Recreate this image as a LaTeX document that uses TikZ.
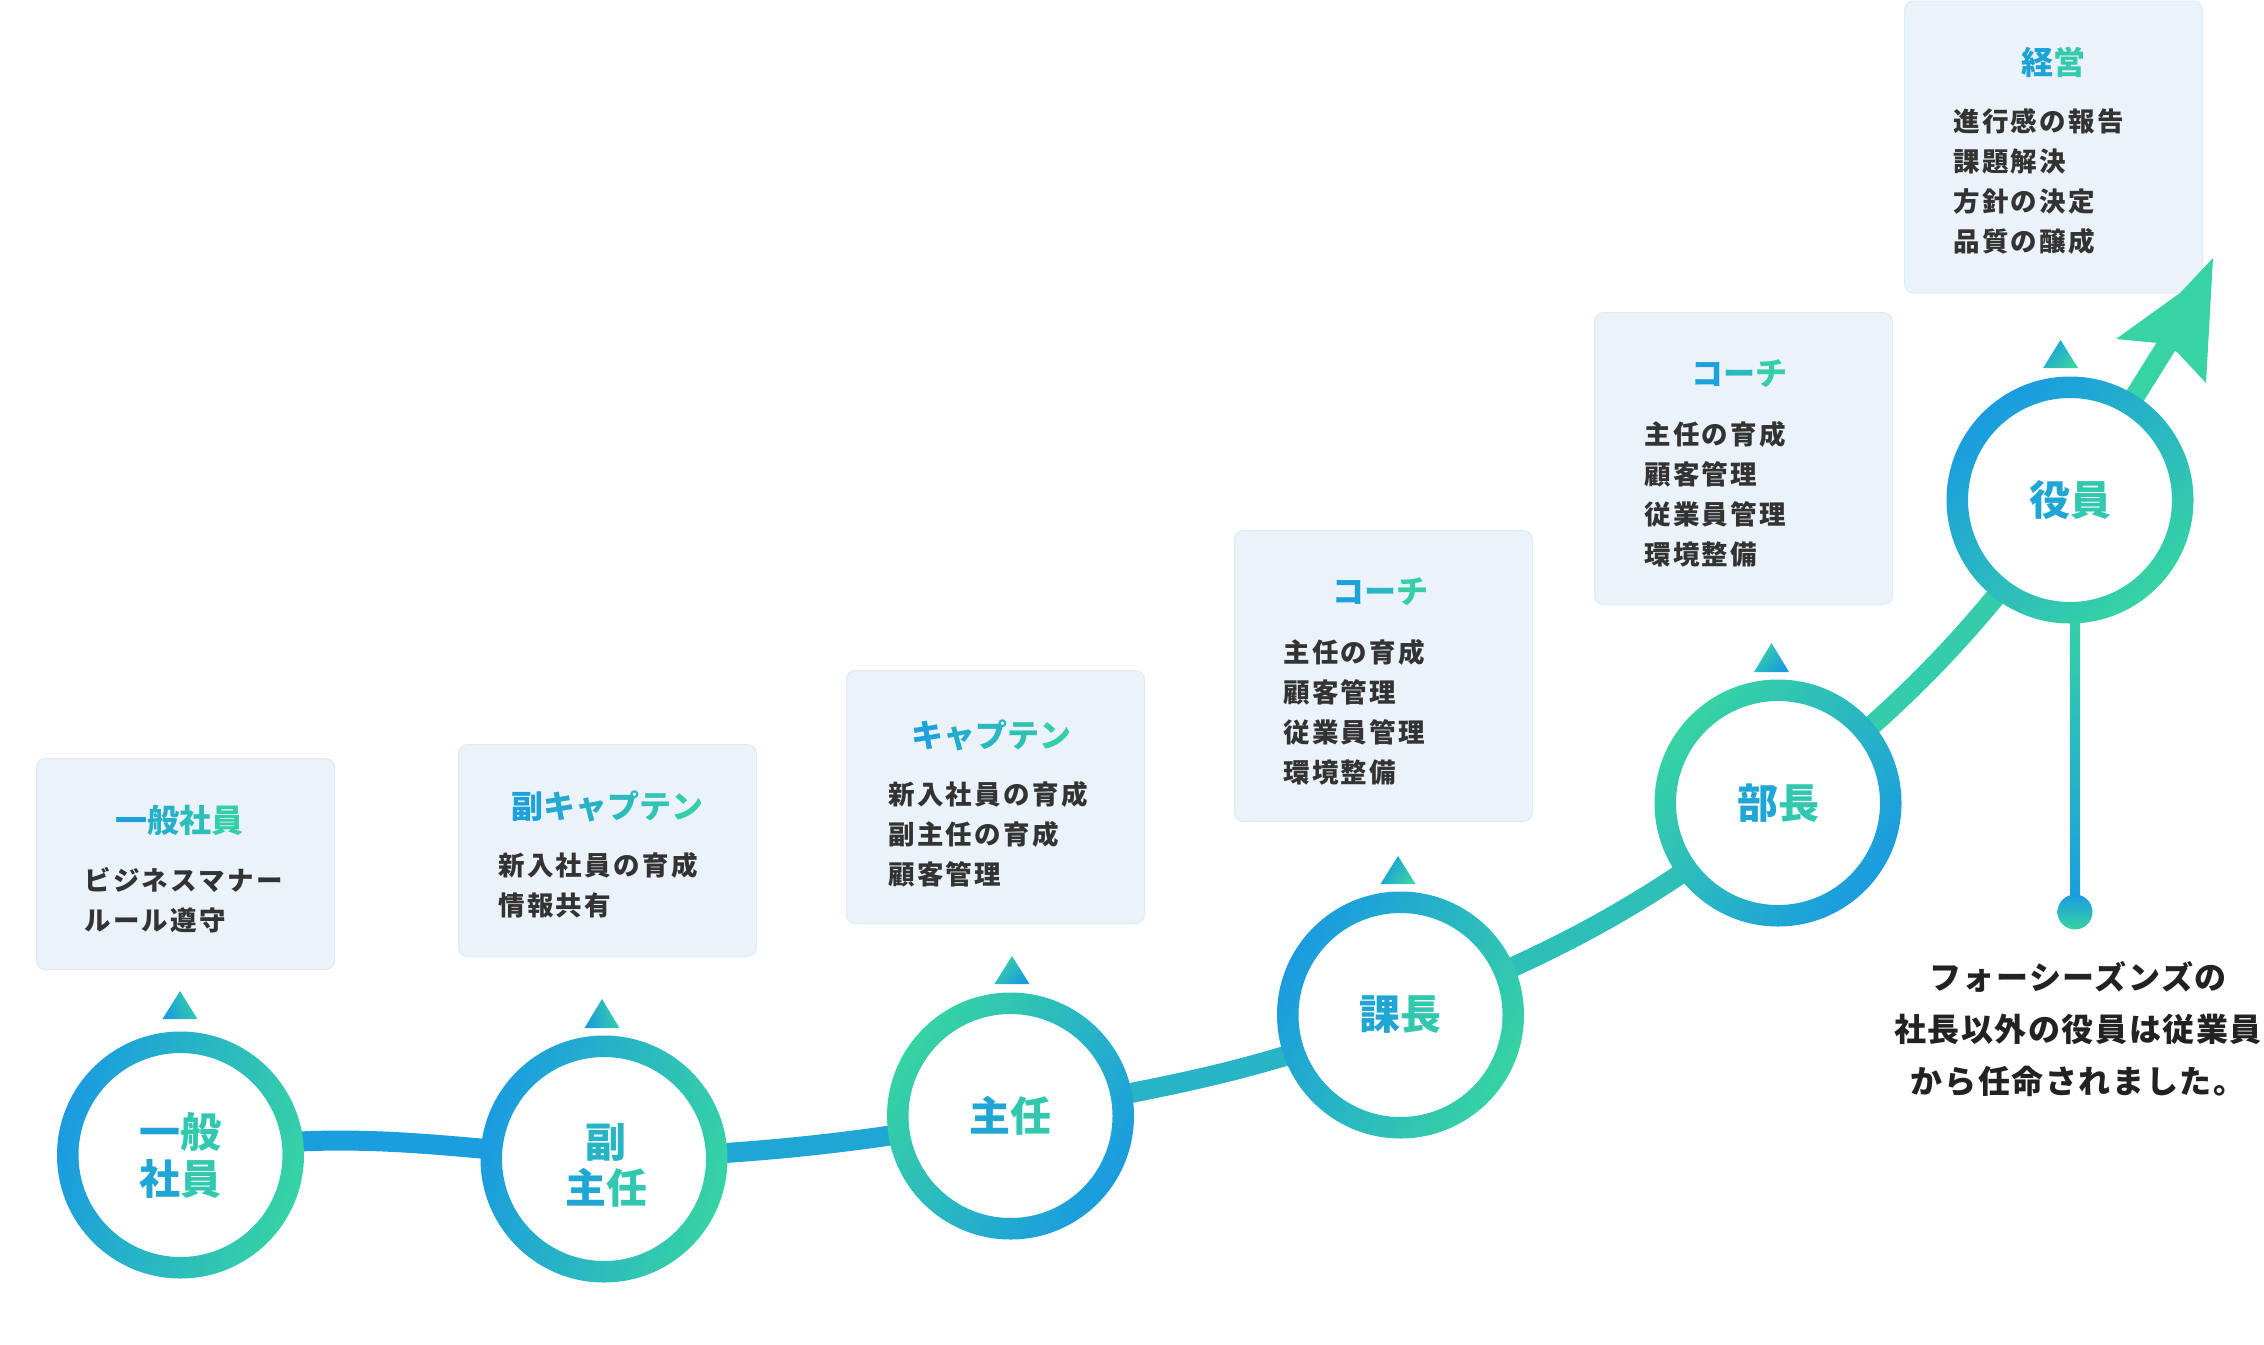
\documentclass[tikz,border=0pt]{standalone}
\usepackage{fontspec}
\setmainfont{Noto Sans CJK JP}
\newfontfamily\jpcirc{Noto Sans CJK JP}[LetterSpace=5]
\newfontfamily\jptitle{Noto Sans CJK JP}[LetterSpace=3]
\newfontfamily\jpbody{Noto Sans CJK JP}[LetterSpace=9]
\newfontfamily\jpcap{Noto Sans CJK JP}[LetterSpace=5]
\usetikzlibrary{calc}
\definecolor{cb}{HTML}{1A9BE0}
\definecolor{cg}{HTML}{37D3A3}
\definecolor{boxfill}{HTML}{EBF2F9}
\definecolor{boxline}{HTML}{DDEBF3}
\definecolor{bodygray}{HTML}{333333}
\definecolor{capgray}{HTML}{222222}
\colorlet{segA}{cg!5!cb}
\colorlet{segB}{cg!20!cb}
\colorlet{segC}{cg!45!cb}
\colorlet{segD}{cg!66!cb}
\colorlet{segE}{cg!88!cb}
\colorlet{segF}{cg}
\pgfdeclarelayer{bg}
\pgfsetlayers{bg,main}
\newcommand\gch[2]{\textcolor{cg!#1!cb}{#2}}
\newcommand\ringshade[2]{\shade[top color=cb, bottom color=cg, shading angle=#2, even odd rule] (#1.center) circle (123.5) (#1.center) circle (102);}
\newcommand\marker[4]{\shade[top color=cb, bottom color=cg, shading angle=#4] (#1-17.5,-#2) -- (#1,-#3) -- (#1+17.5,-#2) -- cycle;}
\tikzset{
  infobox/.style={draw=boxline, line width=1pt, fill=boxfill, rounded corners=9pt, anchor=north west, inner sep=0pt, minimum width=298pt},
  ringnode/.style={circle, fill=white, minimum size=206pt, inner sep=0pt, align=center, font=\jpcirc\bfseries\fontsize{41}{47}\selectfont},
  ringlabel/.style={inner sep=0pt, align=center, font=\jpcirc\bfseries\fontsize{41}{46}\selectfont},
  titletext/.style={font=\jptitle\bfseries\fontsize{32}{40}\selectfont, inner sep=0pt},
  bodylines/.style={font=\jpbody\bfseries\fontsize{26.5}{40}\selectfont, text=bodygray, align=left, anchor=west, inner sep=0pt},
  pathseg/.style={line width=20pt, line cap=butt},
}
\begin{document}
\begin{tikzpicture}[x=1pt,y=1pt]
\useasboundingbox (0,0) rectangle (2264,-1344);

% info boxes
\node[infobox, minimum height=211pt] (b1) at (36,-758) {};
\node[infobox, minimum height=212pt] (b2) at (458,-744) {};
\node[infobox, minimum height=253pt] (b3) at (846,-670) {};
\node[infobox, minimum height=291pt] (b4) at (1234,-530) {};
\node[infobox, minimum height=292pt] (b5) at (1594,-312) {};
\node[infobox, minimum height=292pt] (b6) at (1904,-0.5) {};

% box titles
\node[titletext] (h1) at (179,-820) {\gch{10}{一}\gch{37}{般}\gch{63}{社}\gch{90}{員}};
\node[titletext] (h2) at (607,-806) {\gch{10}{副}\gch{26}{キ}\gch{42}{ャ}\gch{58}{プ}\gch{74}{テ}\gch{90}{ン}};
\node[titletext] (h3) at (991,-735) {\gch{10}{キ}\gch{30}{ャ}\gch{50}{プ}\gch{70}{テ}\gch{90}{ン}};
\node[titletext] (h4) at (1380,-592) {\gch{10}{コ}\gch{50}{ー}\gch{90}{チ}};
\node[titletext] (h5) at (1739,-374) {\gch{10}{コ}\gch{50}{ー}\gch{90}{チ}};
\node[titletext] (h6) at (2053,-62) {\gch{15}{経}\gch{85}{営}};

% box bodies
\node[bodylines] (t1) at (84,-900) {ビジネスマナー\\ルール遵守};
\node[bodylines] (t2) at (498,-885.5) {新入社員の育成\\情報共有};
\node[bodylines] (t3) at (888,-834.5) {新入社員の育成\\副主任の育成\\顧客管理};
\node[bodylines] (t4) at (1283,-712) {主任の育成\\顧客管理\\従業員管理\\環境整備};
\node[bodylines] (t5) at (1644,-494) {主任の育成\\顧客管理\\従業員管理\\環境整備};
\node[bodylines] (t6) at (1953,-181.5) {進行感の報告\\課題解決\\方針の決定\\品質の醸成};

% circles
\node[ringnode] (c1) at (180.5,-1155) {\gch{15}{一}\gch{80}{般}\\\gch{20}{社}\gch{80}{員}};
\node[ringnode] (c2) at (604,-1159) {};
\node[ringlabel] (c2t) at (606,-1165) {\gch{45}{副}\\\gch{20}{主}\gch{80}{任}};
\node[ringnode] (c3) at (1010.5,-1116) {\gch{20}{主}\gch{80}{任}};
\node[ringnode] (c4) at (1400.5,-1015) {\gch{20}{課}\gch{80}{長}};
\node[ringnode] (c5) at (1778,-803) {\gch{20}{部}\gch{80}{長}};
\node[ringnode] (c6) at (2070,-500) {\gch{20}{役}\gch{80}{員}};

\ringshade{c1}{75}
\ringshade{c2}{75}
\ringshade{c3}{235}
\ringshade{c4}{60}
\ringshade{c5}{230}
\ringshade{c6}{40}

% markers above circles
\marker{180}{1019}{991}{110}
\marker{602}{1028}{999}{100}
\marker{1012}{984}{956}{225}
\marker{1398}{884}{856}{60}
\marker{1771.5}{672}{643}{225}
\marker{2060.5}{368}{340}{45}

% end dot and caption
\node[circle, minimum size=35pt, inner sep=0pt, top color=cb, bottom color=cg] (dot) at (2075,-912) {};
\coordinate (vtop) at (dot.center |- c6.south);
\node[font=\jpcap\bfseries\fontsize{32}{52}\selectfont, text=capgray, align=center, inner sep=0pt] (cap) at (2078,-1029) {フォーシーズンズの\\社長以外の役員は従業員\\から任命されました。};

% arrow head
\coordinate (arrowend) at (2170,-340);
\fill[segF] (2213,-258) -- (2180,-293) -- (2116,-339) -- (2158,-343) -- (2177,-352) -- (2206,-383) -- cycle;

\begin{pgfonlayer}{bg}
\draw[pathseg, draw=segA] (c1.center) to[out=10,in=176] (c2.center);
\draw[pathseg, draw=segB] (c2.center) to[out=2,in=190] (c3.center);
\draw[pathseg, draw=segC] (c3.center) to[out=11,in=202] (c4.center);
\draw[pathseg, draw=segD] (c4.center) to[out=22,in=218] (c5.center);
\draw[pathseg, draw=segE] (c5.center) to[out=38,in=234] (c6.center);
\draw[pathseg, draw=segF] (c6.center) -- (arrowend);
\shade[top color=cg, bottom color=cb] ([xshift=-5pt]vtop) rectangle ([xshift=5pt]dot.center);
\end{pgfonlayer}
\end{tikzpicture}
\end{document}
